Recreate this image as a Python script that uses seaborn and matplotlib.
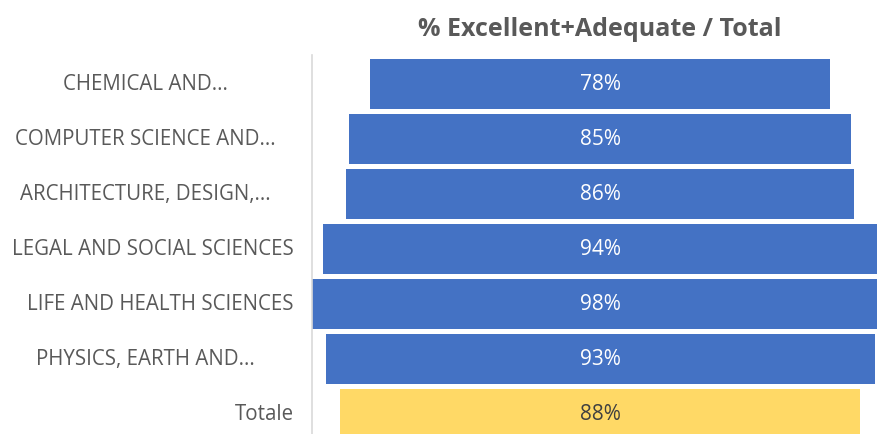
"""Funnel chart: % Excellent+Adequate / Total par domaine."""

import matplotlib
matplotlib.use("Agg")
import matplotlib.pyplot as plt
import pandas as pd
import seaborn as sns

CATEGORIES = [
    "CHEMICAL AND...",
    "COMPUTER SCIENCE AND...",
    "ARCHITECTURE, DESIGN,...",
    "LEGAL AND SOCIAL SCIENCES",
    "LIFE AND HEALTH SCIENCES",
    "PHYSICS, EARTH AND...",
    "Totale",
]
VALUES = [78, 85, 86, 94, 98, 93, 88]
GROUPS = ["area"] * 6 + ["total"]
TITLE = "% Excellent+Adequate / Total"

COLORS = {"area": "#4472C4", "total": "#FFD966"}
TEXT_COLORS = {"area": "white", "total": "#404040"}

sns.set_theme(style="white")
plt.rcParams["font.family"] = ["Open Sans", "DejaVu Sans"]

data = pd.DataFrame({"category": CATEGORIES, "value": VALUES, "group": GROUPS})
data["half"] = data["value"] / 2
data["neg_half"] = -data["value"] / 2

fig = plt.figure(figsize=(8.77, 4.34), dpi=100)
ax = fig.add_axes([312 / 877, 0, (877 - 312) / 877, (434 - 55) / 434])

# funnel: two half-bars mirrored around 0
for col in ("half", "neg_half"):
    sns.barplot(data=data, x=col, y="category", hue="group", palette=COLORS,
                order=CATEGORIES, width=0.91, linewidth=0, dodge=False,
                saturation=1, legend=False, ax=ax)

ax.set_xlim(-48.8, 46.9)
ax.set_ylim(6.36, -0.527)
ax.set(xlabel="", ylabel="", xticks=[])
ax.set_yticks(range(len(CATEGORIES)))
ax.set_yticklabels([])
ax.tick_params(left=False)
for side in ("top", "right", "bottom"):
    ax.spines[side].set_visible(False)
ax.spines["left"].set_color("#D9D9D9")
ax.spines["left"].set_linewidth(1.2)

ytrans = ax.get_yaxis_transform()
for i, row in data.iterrows():
    ax.text(0, i, f"{row['value']}%", ha="center", va="center",
            fontsize=15, color=TEXT_COLORS[row["group"]])
    if row["category"].endswith("..."):
        ax.text(-0.2956, i, row["category"], transform=ytrans, ha="center",
                va="center", fontsize=14.8, color="#595959")
    else:
        ax.text(-0.032, i, row["category"], transform=ytrans, ha="right",
                va="center", fontsize=14.8, color="#595959")

fig.text(600 / 877, 1 - 30 / 434, TITLE, ha="center", va="center",
         fontsize=18, fontweight="bold", color="#595959")

fig.savefig("out.png", dpi=100)
